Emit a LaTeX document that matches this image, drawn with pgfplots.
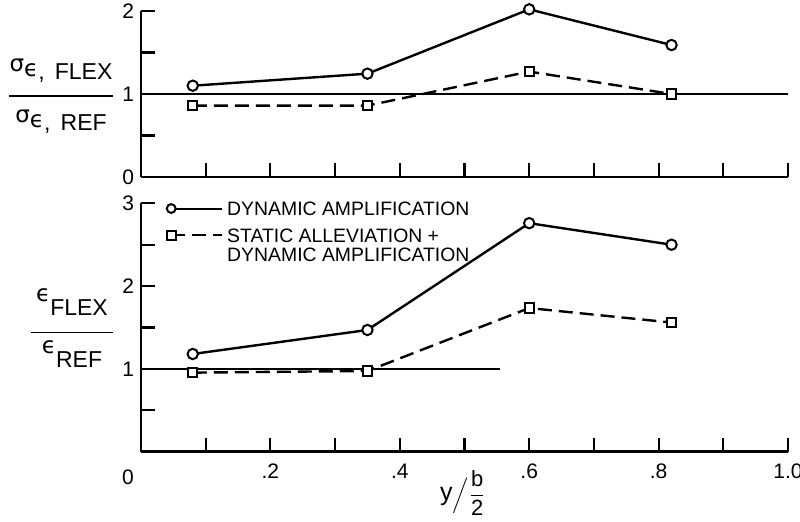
\documentclass[border=0pt]{standalone}
\usepackage{pgfplots}
\pgfplotsset{compat=1.18}
\usepackage{fontspec}
\setmainfont{Liberation Sans}
\newfontfamily\grk{DejaVu Sans}

\pgfplotsset{
  panel/.style={
    scale only axis, width=323.5pt,
    xmin=0, xmax=1,
    axis lines*=left,
    axis line style={line width=1.3pt},
    xtick={0,0.1,0.2,0.3,0.4,0.5,0.6,0.7,0.8,0.9,1.0},
    tick align=inside,
    major tick length=7pt,
    every tick/.style={black, line width=1.1pt},
    tick label style={font=\fontsize{10.5}{12}\selectfont},
    clip=false,
  },
  solidser/.style={black, line width=1.2pt, mark=*, mark size=2.6pt, mark options={fill=white, solid, line width=1pt}},
  dashser/.style={black, line width=1.2pt, dash pattern=on 7pt off 3.5pt, mark=square*, mark size=2.3pt, mark options={fill=white, solid, line width=1pt}},
}

% greek letters taken from DejaVu Sans
\newcommand{\gk}[1]{{\grk\fontsize{11.5}{12}\selectfont #1}}

\begin{document}
\begin{tikzpicture}
\useasboundingbox (-70.5pt,-34.65pt) rectangle (329.5pt,225.85pt);

% lower panel
\begin{axis}[panel,
  height=124.2pt,
  ymin=0, ymax=3,
  ytick={0,0.5,1,1.5,2,2.5,3},
  yticklabels={,,1,,2,,3},
  xticklabels={,,.2,,.4,,.6,,.8,,1.0},
  xticklabel style={yshift=-2.5pt},
  legend style={at={(rel axis cs:0.03,1.04)}, anchor=north west, draw=none, fill=none,
    font=\fontsize{9.7}{9.6}\selectfont, cells={anchor=base west}, row sep=1.2pt},
  legend image code/.code={
    \draw[#1,mark=none,line width=1pt] (0pt,3.4pt) -- (25.5pt,3.4pt);
    \draw[#1,mark repeat=1,mark size=2.2pt] plot coordinates {(0pt,3.4pt)};},
]
\addplot[solidser] coordinates {(0.08,1.18)(0.35,1.47)(0.60,2.76)(0.82,2.50)};
\addlegendentry{DYNAMIC AMPLIFICATION}
\addplot[dashser] coordinates {(0.08,0.955)(0.35,0.975)(0.60,1.735)(0.82,1.56)};
\addlegendentry{\begin{tabular}[t]{@{}l@{}}STATIC ALLEVIATION +\\DYNAMIC AMPLIFICATION\end{tabular}}
\addplot[black, line width=1.2pt, forget plot] coordinates {(0,1)(0.555,1)};
\node[font=\fontsize{10.5}{12}\selectfont, anchor=north] at ([xshift=-6.5pt,yshift=-5.5pt]axis cs:0,0) {0};
\end{axis}

% upper panel
\begin{axis}[panel,
  at={(0pt,137.35pt)}, anchor=south west,
  height=83pt,
  ymin=0, ymax=2,
  ytick={0,0.5,1,1.5,2},
  yticklabels={0,,1,,2},
  xticklabels={},
]
\addplot[solidser] coordinates {(0.08,1.10)(0.35,1.245)(0.60,2.02)(0.82,1.59)};
\addplot[dashser] coordinates {(0.08,0.86)(0.35,0.86)(0.60,1.27)(0.82,1.00)};
\addplot[black, line width=1.2pt] coordinates {(0,1)(1,1)};
\end{axis}

% axis titles
\node[font=\fontsize{11.5}{12}\selectfont, inner sep=0pt] at (-40pt,178.85pt)
  {\begin{tabular}{@{}c@{}}
   \gk{σ}\raisebox{-2.5pt}{\gk{ϵ}}\raisebox{-3.8pt}{, \,FLEX}\\[-1pt]
   \rule{52pt}{0.9pt}\\[1pt]
   \gk{σ}\raisebox{-2.5pt}{\gk{ϵ}}\raisebox{-3.8pt}{, \,REF}\end{tabular}};
\node[font=\fontsize{11.5}{12}\selectfont, inner sep=0pt] at (-34.5pt,62.85pt)
  {\begin{tabular}{@{}c@{}}
   \gk{ϵ}\raisebox{-7pt}{FLEX}\\[4pt]
   \rule{41pt}{0.9pt}\\[-2pt]
   \gk{ϵ}\raisebox{-7pt}{REF}\end{tabular}};
\node[font=\fontsize{11}{13}\selectfont] at (161pt,-20.7pt)
  {$\displaystyle\hbox{\fontsize{12.5}{14}\selectfont y}\Big/\frac{\hbox{b}}{\hbox{2}}$};
\end{tikzpicture}
\end{document}
